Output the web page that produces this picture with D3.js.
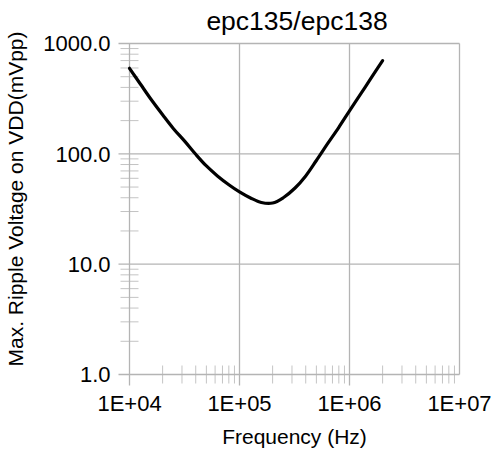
<!DOCTYPE html>
<head>
    <meta charset="utf-8">
    <script src="https://d3js.org/d3.v7.min.js"></script>
    <style>
        body { margin: 0; background: #fff; }
        text { font-family: Arial, "Liberation Sans", sans-serif; fill: #000; }
    </style>
</head>

<div id="my_dataviz"></div>

<script>
// curve
var freq   = [1e4, 1.26e4, 1.58e4, 2e4, 2.5e4, 3.2e4, 4e4, 5e4, 6.3e4, 8e4,
              1e5, 1.26e5, 1.58e5, 2e5, 2.5e5, 3.2e5, 4e5, 5e5, 6.3e5, 8e5,
              1e6, 1.26e6, 1.58e6, 2e6];
var ripple = [596, 427, 309, 226, 170, 129, 99, 77.6, 63.1, 52.5,
              45.2, 39.8, 36.2, 35.8, 40, 49, 63, 87, 123, 174,
              245, 347, 490, 700];

var xTicks = [1e4, 1e5, 1e6, 1e7];
var xTickLabels = ["1E+04", "1E+05", "1E+06", "1E+07"];
var yTicks = [1, 10, 100, 1000];
var yTickLabels = ["1.0", "10.0", "100.0", "1000.0"];

var title = "epc135/epc138";
var xTitle = "Frequency (Hz)";
var yTitle = "Max. Ripple Voltage on VDD(mVpp)";

var margin = {top: 43.5, right: 36.5, bottom: 78.5, left: 129.5},
    width = 496 - margin.left - margin.right,
    height = 453 - margin.top - margin.bottom;

var svg = d3.select("#my_dataviz")
    .append("svg")
    .attr("width", 496)
    .attr("height", 453);

var g = svg.append("g")
    .attr("transform", "translate(" + margin.left + "," + margin.top + ")");

var x = d3.scaleLog().domain([1e4, 1e7]).range([0, width]);
var y = d3.scaleLog().domain([1, 1000]).range([height, 0]);

var gridColor = "#b4b4b4";

// minor ticks 2..9 in each decade
var xMinor = [], yMinor = [];
xTicks.slice(0, -1).forEach(function(d) { for (var k = 2; k < 10; k++) xMinor.push(d * k); });
yTicks.slice(0, -1).forEach(function(d) { for (var k = 2; k < 10; k++) yMinor.push(d * k); });

g.selectAll("xminor").data(xMinor).enter().append("line")
    .attr("x1", function(d) { return x(d) }).attr("x2", function(d) { return x(d) })
    .attr("y1", height - 9).attr("y2", height + 9)
    .attr("stroke", "#c4c4c4");

g.selectAll("yminor").data(yMinor).enter().append("line")
    .attr("y1", function(d) { return y(d) }).attr("y2", function(d) { return y(d) })
    .attr("x1", -9).attr("x2", 9)
    .attr("stroke", "#c4c4c4");

// major gridlines, with outward ticks
g.selectAll("xgrid").data(xTicks).enter().append("line")
    .attr("x1", function(d) { return x(d) }).attr("x2", function(d) { return x(d) })
    .attr("y1", 0).attr("y2", function(d, i) { return i == xTicks.length - 1 ? height : height + 11 })
    .attr("stroke", gridColor).attr("stroke-width", 1.3);

g.selectAll("ygrid").data(yTicks).enter().append("line")
    .attr("y1", function(d) { return y(d) }).attr("y2", function(d) { return y(d) })
    .attr("x1", -11).attr("x2", width)
    .attr("stroke", gridColor).attr("stroke-width", 1.3);

// tick labels
g.selectAll("xlab").data(xTicks).enter().append("text")
    .attr("x", function(d) { return x(d) })
    .attr("y", height + 36)
    .attr("text-anchor", "middle")
    .style("font-size", "22px")
    .text(function(d, i) { return xTickLabels[i] });

g.selectAll("ylab").data(yTicks).enter().append("text")
    .attr("x", -19)
    .attr("y", function(d) { return y(d) })
    .attr("dy", "0.36em")
    .attr("text-anchor", "end")
    .style("font-size", "22px")
    .text(function(d, i) { return yTickLabels[i] });

// the curve
var line = d3.line()
    .x(function(d) { return x(d[0]) })
    .y(function(d) { return y(d[1]) })
    .curve(d3.curveCatmullRom);

g.append("path")
    .datum(d3.zip(freq, ripple))
    .attr("d", line)
    .attr("fill", "none")
    .attr("stroke", "black")
    .attr("stroke-width", 3.2)
    .attr("stroke-linecap", "round");

// titles
svg.append("text")
    .attr("x", 297).attr("y", 30)
    .attr("text-anchor", "middle")
    .style("font-size", "26.5px")
    .text(title);

svg.append("text")
    .attr("x", margin.left + width / 2).attr("y", 444)
    .attr("text-anchor", "middle")
    .style("font-size", "21px")
    .text(xTitle);

svg.append("text")
    .attr("transform", "translate(23," + 199 + ") rotate(-90)")
    .attr("text-anchor", "middle")
    .style("font-size", "21px")
    .text(yTitle);
</script>
